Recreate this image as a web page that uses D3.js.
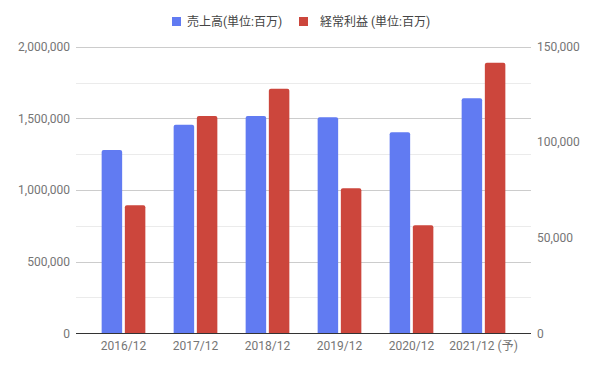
<!DOCTYPE html>
<html>
<head>
<meta charset="utf-8">
<script src="https://cdn.jsdelivr.net/npm/d3@7"></script>
<style>
  body { margin: 0; background: #fff; }
  text { font-family: Roboto, "Noto Sans CJK JP", sans-serif; }
</style>
</head>
<body>
<div id="chart"></div>
<script>
// data
var years = ["2016/12", "2017/12", "2018/12", "2019/12", "2020/12", "2021/12 (予)"];
var sales = [1280000, 1455000, 1516000, 1507000, 1403000, 1640000];   // 売上高 left axis
var profit = [67000, 113700, 128000, 75900, 56500, 141600];          // 経常利益 right axis
var leftTicks = [0, 500000, 1000000, 1500000, 2000000];
var rightTicks = [0, 50000, 100000, 150000];
var seriesNames = ["売上高(単位:百万)", "経常利益 (単位:百万)"];
var colors = ["#617bf2", "#cc463c"];

var W = 598, H = 369;
var plotLeft = 76, plotRight = 531, plotTop = 46.7, plotBottom = 333.3;

var svg = d3.select("#chart").append("svg")
  .attr("width", W).attr("height", H);

var yL = d3.scaleLinear().domain([0, 2000000]).range([plotBottom, plotTop]);
var yR = d3.scaleLinear().domain([0, 150000]).range([plotBottom, plotTop]);
var x = d3.scaleBand().domain(years).range([plotLeft + 11.5, plotRight - 11.5]);
var inner = d3.scaleBand().domain([0, 1]).range([0, x.bandwidth()])
  .paddingInner(0.116).paddingOuter(0.61);

// gridlines, minor every 250,000
var grid = svg.append("g");
d3.range(250000, 2000001, 250000).forEach(function(v) {
  grid.append("line")
    .attr("x1", plotLeft).attr("x2", plotRight)
    .attr("y1", Math.round(yL(v)) + 0.5).attr("y2", Math.round(yL(v)) + 0.5)
    .attr("stroke", v % 500000 == 0 ? "#cccccc" : "#ebebeb");
});

// rounded-top bar path
function bar(x0, w, yTop, yBase) {
  var r = 2;
  return "M" + x0 + "," + yBase +
    "V" + (yTop + r) +
    "Q" + x0 + "," + yTop + " " + (x0 + r) + "," + yTop +
    "H" + (x0 + w - r) +
    "Q" + (x0 + w) + "," + yTop + " " + (x0 + w) + "," + (yTop + r) +
    "V" + yBase + "Z";
}

var bars = svg.append("g");
years.forEach(function(yr, i) {
  bars.append("path")
    .attr("d", bar(x(yr) + inner(0), inner.bandwidth(), yL(sales[i]), plotBottom))
    .attr("fill", colors[0]);
  bars.append("path")
    .attr("d", bar(x(yr) + inner(1), inner.bandwidth(), yR(profit[i]), plotBottom))
    .attr("fill", colors[1]);
});

// baseline
svg.append("line")
  .attr("x1", plotLeft).attr("x2", plotRight)
  .attr("y1", Math.round(plotBottom) + 0.5).attr("y2", Math.round(plotBottom) + 0.5)
  .attr("stroke", "#333");

var fmt = d3.format(",");

// left axis labels
svg.append("g").selectAll("text")
  .data(leftTicks).enter().append("text")
  .attr("x", 70).attr("y", function(d) { return yL(d); })
  .attr("dy", "0.35em")
  .attr("text-anchor", "end")
  .attr("font-size", 12).attr("fill", "#757575")
  .text(fmt);

// right axis labels
svg.append("g").selectAll("text")
  .data(rightTicks).enter().append("text")
  .attr("x", 537).attr("y", function(d) { return yR(d); })
  .attr("dy", "0.35em")
  .attr("font-size", 12).attr("fill", "#757575")
  .text(fmt);

// x labels
svg.append("g").selectAll("text")
  .data(years).enter().append("text")
  .attr("x", function(d) { return x(d) + x.bandwidth() / 2; })
  .attr("y", 350)
  .attr("text-anchor", "middle")
  .attr("font-size", 12).attr("fill", "#757575")
  .text(function(d) { return d; });

// legend
var legX = [172, 299], legText = [187, 320];
var leg = svg.append("g");
seriesNames.forEach(function(n, i) {
  leg.append("rect")
    .attr("x", legX[i]).attr("y", 17).attr("width", 9).attr("height", 9)
    .attr("fill", colors[i]);
  leg.append("text")
    .attr("x", legText[i]).attr("y", 21.5).attr("dy", "0.35em")
    .attr("font-size", 12).attr("fill", "#444")
    .text(n);
});
</script>
</body>
</html>
